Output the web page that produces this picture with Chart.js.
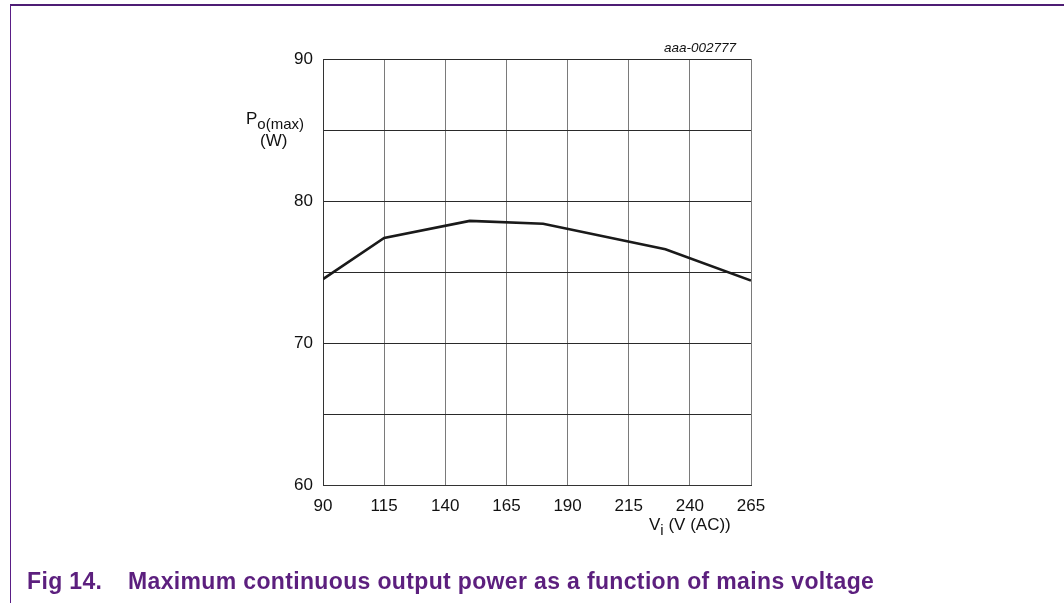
<!DOCTYPE html>
<html lang="en">
<head>
    <meta charset="UTF-8">
    <title>Fig 14</title>
    <script src="https://cdn.jsdelivr.net/npm/chart.js"></script>
    <style>
        body { margin: 0; background: #fff; font-family: "Liberation Sans", Arial, sans-serif; }
        .page { position: relative; width: 1064px; height: 603px; overflow: hidden; }
        .frame-top { position: absolute; left: 10px; top: 4px; width: 1054px; height: 2px; background: #4e1d74; }
        .frame-left { position: absolute; left: 10px; top: 5px; width: 1px; height: 598px; background: #5a1e86; }
        canvas { position: absolute; left: 0; top: 0; }
        .txt { position: absolute; color: #111; font-size: 17px; line-height: 17px; white-space: nowrap; }
        .ytitle { left: 246px; top: 110px; }
        .ytitle2 { left: 260px; top: 132px; }
        .xtitle { left: 649px; top: 516px; }
        .code { left: 664px; top: 39px; font-size: 13.5px; font-style: italic; }
        sub { font-size: 15px; vertical-align: -5px; line-height: 0; }
        .caption { position: absolute; top: 570px; color: #5c1f7e; font-weight: bold; font-size: 23px; line-height: 23px; white-space: nowrap; letter-spacing: 0.35px; }
    </style>
</head>
<body>
<div class="page">
    <div class="frame-top"></div>
    <div class="frame-left"></div>
    <canvas id="chart" width="1064" height="603"></canvas>
    <div class="txt ytitle">P<sub>o(max)</sub></div>
    <div class="txt ytitle2">(W)</div>
    <div class="txt xtitle">V<sub>i</sub> (V (AC))</div>
    <div class="txt code">aaa-002777</div>
    <div class="caption" style="left: 27px;">Fig 14.</div>
    <div class="caption" style="left: 128px;">Maximum continuous output power as a function of mains voltage</div>
</div>
<script>
    // values
    const voltage = [90, 115, 150, 180, 230, 265];
    const power = [74.5, 77.4, 78.6, 78.4, 76.6, 74.4];
    const yLabels = [60, 70, 80, 90];

    const ctx = document.getElementById('chart').getContext('2d');
    new Chart(ctx, {
        type: 'line',
        data: {
            datasets: [{
                data: voltage.map((v, i) => ({ x: v, y: power[i] })),
                borderColor: '#1a1a1a',
                borderWidth: 2.6,
                pointRadius: 0,
                tension: 0,
                fill: false
            }]
        },
        options: {
            responsive: false,
            animation: false,
            layout: { padding: { top: 59, right: 313, left: 0, bottom: 0 } },
            plugins: { legend: { display: false }, tooltip: { enabled: false } },
            scales: {
                x: {
                    type: 'linear',
                    min: 90,
                    max: 265,
                    afterFit: s => { s.height = 118; },
                    ticks: {
                        stepSize: 25,
                        color: '#111',
                        font: { family: 'Liberation Sans', size: 17 },
                        padding: 11,
                        maxRotation: 0
                    },
                    grid: { color: '#7a7a7a', lineWidth: 1, tickLength: 0 },
                    border: { color: '#333', width: 1 }
                },
                y: {
                    min: 60,
                    max: 90,
                    afterFit: s => { s.width = 323; },
                    ticks: {
                        stepSize: 5,
                        color: '#111',
                        font: { family: 'Liberation Sans', size: 17 },
                        padding: 10,
                        callback: v => yLabels.includes(v) ? v : ''
                    },
                    grid: { color: '#2a2a2a', lineWidth: 1, tickLength: 0 },
                    border: { color: '#333', width: 1 }
                }
            }
        }
    });
</script>
</body>
</html>
